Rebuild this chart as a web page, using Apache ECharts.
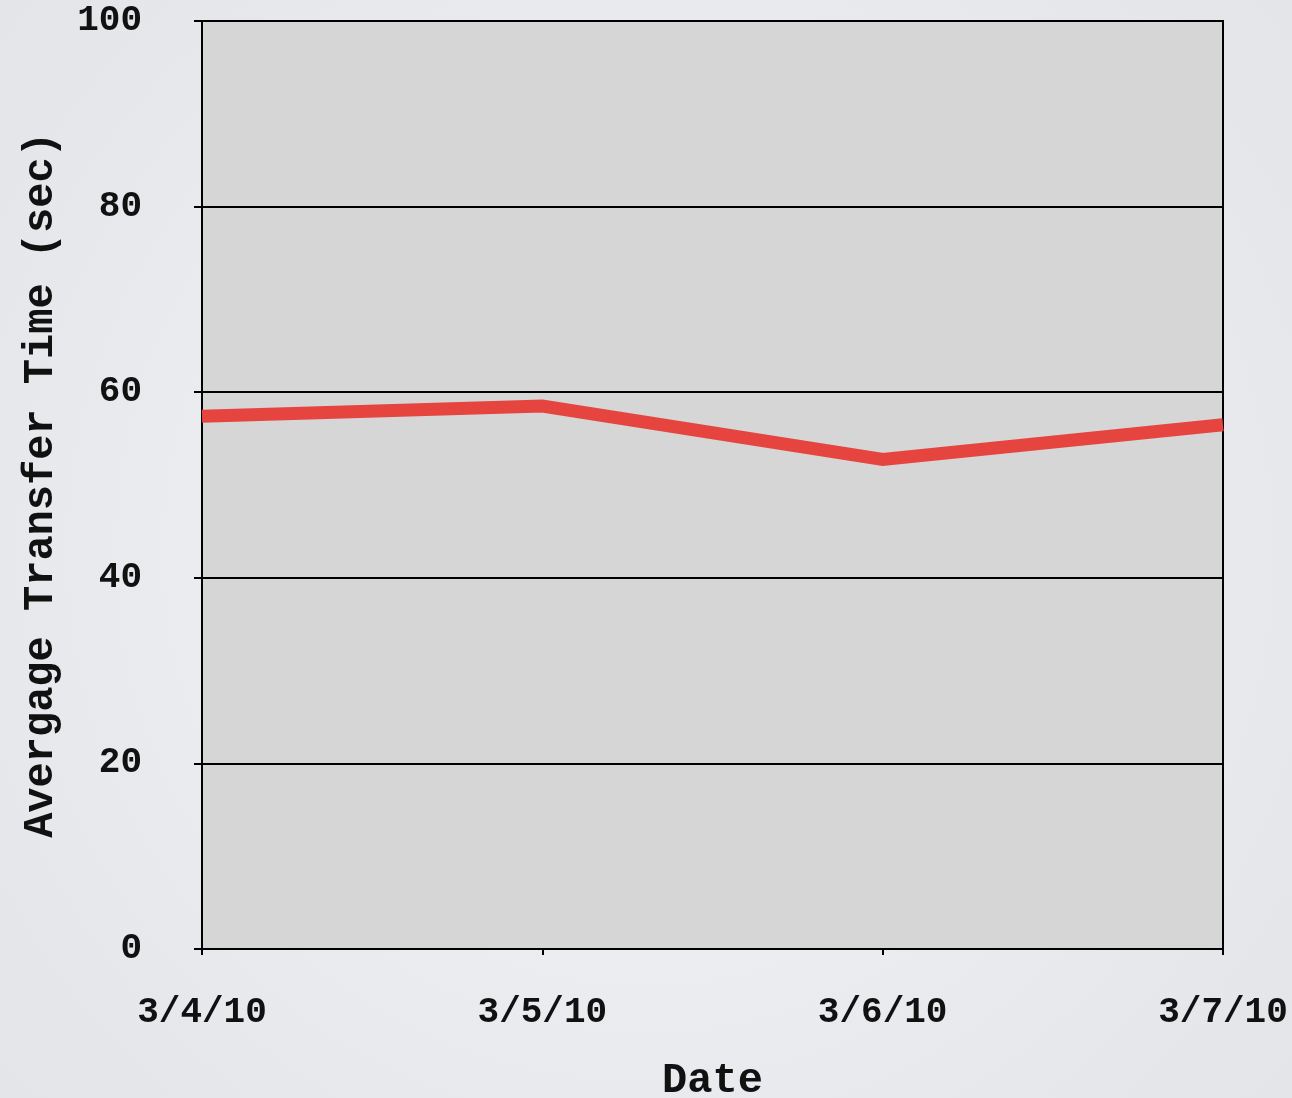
<!DOCTYPE html>
<html>
<head>
<meta charset="utf-8">
<script src="https://cdn.jsdelivr.net/npm/echarts@6/dist/echarts.min.js"></script>
<style>
html,body{margin:0;padding:0;background:#eceef1;}
#c{width:1292px;height:1098px;}
</style>
</head>
<body>
<div id="c"></div>
<script>
const categories = ['3/4/10', '3/5/10', '3/6/10', '3/7/10'];
const transferTime = [57.4, 58.5, 52.75, 56.5];
const yTicks = { min: 0, max: 100, interval: 20 };

const chart = echarts.init(document.getElementById('c'), null, { renderer: 'canvas' });
const font = 'Liberation Mono';
chart.setOption({
  animation: false,
  backgroundColor: {
    type: 'radial', x: 0.5, y: 0.5, r: 0.75,
    colorStops: [{ offset: 0, color: '#f3f4f6' }, { offset: 1, color: '#e3e5e9' }]
  },
  grid: {
    left: 202, right: 69, top: 21, bottom: 149,
    outerBoundsMode: 'none', containLabel: false,
    show: true, backgroundColor: '#d6d6d6', borderColor: '#000', borderWidth: 2
  },
  xAxis: {
    type: 'category', data: categories, boundaryGap: false,
    name: 'Date', nameLocation: 'middle', nameGap: 111,
    nameTextStyle: { fontFamily: font, fontWeight: 'bold', fontSize: 42, color: '#111' },
    axisLine: { lineStyle: { color: '#000', width: 2 } },
    axisTick: { show: true, length: 6, lineStyle: { color: '#000', width: 2 } },
    axisLabel: { fontFamily: font, fontWeight: 'bold', fontSize: 36, color: '#111', margin: 46 },
    splitLine: { show: false }
  },
  yAxis: {
    type: 'value', min: yTicks.min, max: yTicks.max, interval: yTicks.interval,
    name: 'Avergage Transfer Time (sec)', nameLocation: 'middle', nameGap: 140,
    nameTextStyle: { fontFamily: font, fontWeight: 'bold', fontSize: 42, color: '#111' },
    axisLine: { show: true, lineStyle: { color: '#000', width: 2 } },
    axisTick: { show: true, length: 8, lineStyle: { color: '#000', width: 2 } },
    axisLabel: { fontFamily: font, fontWeight: 'bold', fontSize: 36, color: '#111', margin: 60 },
    splitLine: { show: true, lineStyle: { color: '#000', width: 2 } }
  },
  series: [{
    type: 'line', data: transferTime, symbol: 'none',
    lineStyle: { color: '#e6453f', width: 13, cap: 'butt', join: 'miter' }
  }]
});
</script>
</body>
</html>
